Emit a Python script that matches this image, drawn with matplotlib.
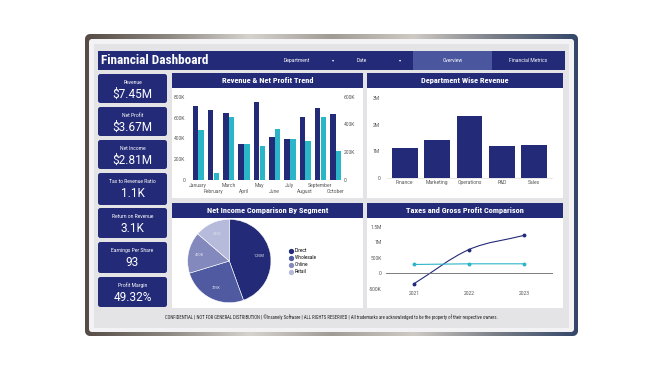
import numpy as np
import matplotlib
matplotlib.use("Agg")
import matplotlib.pyplot as plt
from matplotlib import font_manager
from matplotlib.patches import FancyBboxPatch, Rectangle, PathPatch
from matplotlib.path import Path
from matplotlib.lines import Line2D
from matplotlib.colors import LinearSegmentedColormap

# ---- data ----
kpi_labels = ['Revenue', 'Net Profit', 'Net Income', 'Tax to Revenue Ratio',
              'Return on Revenue', 'Earnings Per Share', 'Profit Margin']
kpi_values = ['$7.45M', '$3.67M', '$2.81M', '1.1K', '3.1K', '93', '49.32%']

months = ['January', 'February', 'March', 'April', 'May', 'June', 'July',
          'August', 'September', 'October']
revenue = [714, 672, 643, 349, 752, 416, 390, 605, 691, 634]      # K
net_profit = [360, 53, 454, 262, 245, 367, 295, 283, 454, 211]    # K
rev_ticks = [0, 200, 400, 600, 800]
rev_ticklabels = ['0', '200K', '400K', '600K', '800K']
np_ticks = [0, 200, 400, 600]
np_ticklabels = ['0', '200K', '400K', '600K']

departments = ['Finance', 'Marketing', 'Operations', 'R&D', 'Sales']
dept_revenue = [1.13, 1.43, 2.34, 1.20, 1.24]   # M
dept_ticks = [0, 1, 2, 3]
dept_ticklabels = ['0', '1M', '2M', '3M']

segments = ['Direct', 'Wholesale', 'Online', 'Retail']
segment_income = [1.25, 0.725, 0.45, 0.385]     # M
segment_text = ['1.25M', '725K', '450K', '385K']

years = ['2021', '2022', '2023']
gross_profit = [-330, 766, 1220]   # K
taxes = [287, 309, 309]            # K
line_ticks = [-500, 0, 500, 1000, 1500]
line_ticklabels = ['-500K', '0', '500K', '1M', '1.5M']

footer = ('CONFIDENTIAL | NOT FOR GENERAL DISTRIBUTION | \u00a9Insanely Software | ALL RIGHTS RESERVED | '
          'All trademarks are acknowledged to be the property of their respective owners.')

# ---- style ----
NAVY = '#232b78'
CYAN = '#2bb5c8'
TAB = '#4a569e'
TICK = '#555555'
W, H = 666, 375

names = {f.name for f in font_manager.fontManager.ttflist}
narrow = 'Roboto'
for cand in ['Roboto Condensed', 'Liberation Sans Narrow', 'DejaVu Sans Condensed']:
    if cand in names:
        narrow = cand
        break
plt.rcParams['font.family'] = ['Roboto', 'DejaVu Sans']

fig = plt.figure(figsize=(W / 100, H / 100), dpi=100)
fig.patch.set_facecolor('white')
bg = fig.add_axes([0, 0, 1, 1])
bg.axis('off')


def box(x0, y0, x1, y1, color, r=0, z=1):
    if r:
        p = FancyBboxPatch((x0 + r, y0 + r), x1 - x0 - 2 * r, y1 - y0 - 2 * r,
                           boxstyle='round,pad=%s' % r, fc=color, ec='none', zorder=z)
    else:
        p = Rectangle((x0, y0), x1 - x0, y1 - y0, fc=color, ec='none', zorder=z)
    bg.add_patch(p)
    return p


def axpx(x0, y0, x1, y1):
    a = fig.add_axes([x0 / W, 1 - y1 / H, (x1 - x0) / W, (y1 - y0) / H])
    a.patch.set_alpha(0)
    return a


# metallic frame
frame = box(85, 34, 578, 336, '#777777', r=6, z=1)
grad = np.linspace(0, 1, 256).reshape(1, -1)
metal = LinearSegmentedColormap.from_list(
    'metal', ['#564c45', '#8d8781', '#d6d3cf', '#a19b95', '#cfcac4', '#7b7f88', '#34476a'])
im = bg.imshow(grad, extent=(85, 578, 336, 34), cmap=metal, aspect='auto', zorder=1.5)
im.set_clip_path(frame)
box(89, 39, 574, 332, '#f3f3f5', r=3, z=2)
box(94, 44, 569, 328, '#e4e4e7', z=2.1)
bg.set_xlim(0, W)
bg.set_ylim(H, 0)

# header
box(98, 51, 565, 70, NAVY, z=3)
box(413, 51, 492, 70, TAB, z=3.1)
bg.text(101, 60.5, 'Financial Dashboard', color='white', fontsize=9.5, fontweight='bold',
        family=[narrow, 'DejaVu Sans'], va='center', ha='left', zorder=4)
for label, cx, chev in [('Department', 297, 333), ('Date', 362, 400)]:
    bg.text(cx, 60.5, label, color='white', fontsize=3.6, va='center', ha='center', zorder=4)
    bg.text(chev, 60.5, '\u25be', color='white', fontsize=3, va='center', ha='center',
            family=['DejaVu Sans'], zorder=4)
bg.text(452.5, 60.5, 'Overview', color='white', fontsize=3.6, va='center', ha='center', zorder=4)
bg.text(528, 60.5, 'Financial Metrics', color='white', fontsize=3.6, va='center', ha='center', zorder=4)

# KPI cards
card_rows = [(74, 103), (107, 136), (140, 169), (173, 205), (208, 238), (242, 273), (277, 307)]
for (t, b), lab, val in zip(card_rows, kpi_labels, kpi_values):
    box(98, t, 167, b, NAVY, r=2.5, z=3)
    bg.text(132.5, t + 8.5, lab, color='white', fontsize=3.6, ha='center', va='center', zorder=4)
    bg.text(132.5, t + 20.5, val, color='white', fontsize=8.5, ha='center', va='center', zorder=4)

# panels
panels = [(172, 73, 363, 198, 'Revenue & Net Profit Trend'),
          (367, 73, 563, 198, 'Department Wise Revenue'),
          (172, 203, 363, 308, 'Net Income Comparison By Segment'),
          (367, 203, 563, 308, 'Taxes and Gross Profit Comparison')]
for x0, y0, x1, y1, title in panels:
    box(x0, y0, x1, y1, 'white', z=3)
    box(x0, y0, x1, y0 + 15, NAVY, z=3.1)
    bg.text((x0 + x1) / 2, y0 + 7.8, title, color='white', fontsize=6, fontweight='bold',
            family=[narrow, 'DejaVu Sans'], ha='center', va='center', zorder=4)

bg.text(331, 317.5, footer, color='#222222', fontsize=3.45, ha='center', va='center',
        family=[narrow, 'DejaVu Sans'], zorder=4)


def clean(a):
    for s in a.spines.values():
        s.set_visible(False)
    a.tick_params(which='both', length=0, labelsize=3.6, labelcolor=TICK)


# revenue & net profit
ax1 = axpx(188, 96.7, 342, 180)
x = np.arange(len(months))
ax1.bar(x - 0.19, revenue, width=0.36, color=NAVY)
ax1.set_ylim(0, 800)
ax1.set_yticks(rev_ticks, rev_ticklabels)
ax1.set_xlim(-0.675, 9.41)
ax1.set_xticks(x[::2], months[::2])
ax1.set_xticks(x[1::2], months[1::2], minor=True)
clean(ax1)
ax1.tick_params(axis='y', pad=2)
ax1.tick_params(axis='x', which='major', pad=2)
ax1.tick_params(axis='x', which='minor', pad=6.3)
ax1b = ax1.twinx()
ax1b.patch.set_alpha(0)
ax1b.bar(x + 0.19, net_profit, width=0.36, color=CYAN)
ax1b.set_ylim(0, 600)
ax1b.set_yticks(np_ticks, np_ticklabels)
clean(ax1b)
ax1b.tick_params(axis='y', pad=1.5)

# department revenue
ax2 = axpx(387, 98.3, 552, 177.7)
ax2.bar(np.arange(len(departments)), dept_revenue, width=0.79, color=NAVY)
ax2.set_ylim(0, 3)
ax2.set_xlim(-0.55, 4.55)
ax2.set_yticks(dept_ticks, dept_ticklabels)
ax2.set_xticks(np.arange(len(departments)), departments)
clean(ax2)
ax2.spines['bottom'].set_visible(True)
ax2.spines['bottom'].set_color('#dddddd')
ax2.spines['bottom'].set_linewidth(0.5)
ax2.tick_params(axis='y', pad=5)
ax2.tick_params(axis='x', pad=1.8)

# pie
pie_colors = ['#232b78', '#4f5aa0', '#8389bd', '#b6badb']
axp = axpx(187.6, 219.3, 271, 302.7)
wedges, _ = axp.pie(segment_income, colors=pie_colors, startangle=90, counterclock=False,
                    wedgeprops=dict(linewidth=0.4, edgecolor='white'))
for w, txt in zip(wedges, segment_text):
    ang = np.deg2rad((w.theta1 + w.theta2) / 2)
    axp.text(0.72 * np.cos(ang), 0.72 * np.sin(ang), txt, fontsize=2.8,
             color='#dfe0ee', ha='center', va='center')
axp.set_xlim(-1, 1)
axp.set_ylim(-1, 1)
handles = [Line2D([], [], marker='o', ls='none', color=c, markersize=2.8) for c in pie_colors]
fig.legend(handles, segments, loc='upper left', bbox_to_anchor=(290 / W, 1 - 248.5 / H),
           frameon=False, fontsize=3.4, handlelength=0.6, handletextpad=0.4,
           labelspacing=0.42, borderpad=0, borderaxespad=0)

# taxes & gross profit
ax4 = axpx(386, 222, 553, 290)
xl = np.arange(len(years))
ax4.axhline(0, color='#666666', lw=0.6)
p0, p1, p2 = gross_profit
m = [p1 - p0, (p2 - p0) / 2, p2 - p1]
verts = [(0, p0)]
codes = [Path.MOVETO]
for i in range(2):
    verts += [(i + 1 / 3, gross_profit[i] + m[i] / 3),
              (i + 1 - 1 / 3, gross_profit[i + 1] - m[i + 1] / 3),
              (i + 1, gross_profit[i + 1])]
    codes += [Path.CURVE4] * 3
ax4.add_patch(PathPatch(Path(verts, codes), fc='none', ec=NAVY, lw=0.8))
ax4.plot(xl, gross_profit, 'o', color=NAVY, markersize=1.8)
ax4.plot(xl, taxes, '-o', color=CYAN, lw=0.8, markersize=1.8)
ax4.set_xlim(-0.51, 2.53)
ax4.set_ylim(-532, 1651)
ax4.set_yticks(line_ticks, line_ticklabels)
ax4.set_xticks(xl, years)
clean(ax4)
ax4.tick_params(axis='y', pad=3)
ax4.tick_params(axis='x', pad=1)

fig.savefig('out.png', dpi=100, facecolor='white')
